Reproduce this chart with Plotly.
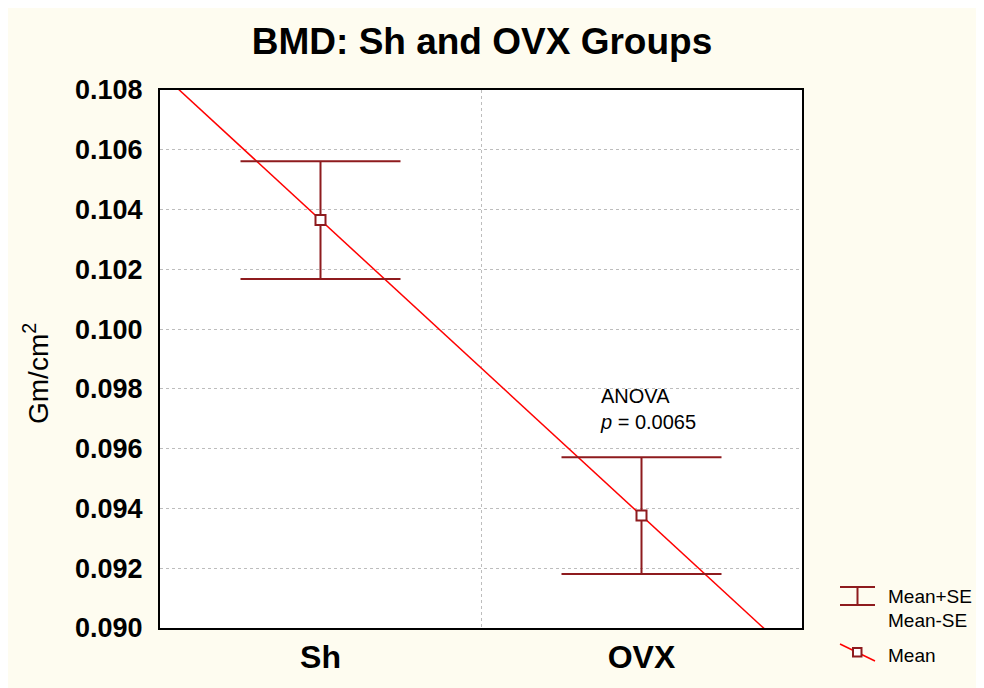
import plotly.graph_objects as go

groups = ["Sh", "OVX"]
means = [0.10365, 0.09376]
se = [0.00197, 0.00195]
y_ticks = [0.090, 0.092, 0.094, 0.096, 0.098, 0.100, 0.102, 0.104, 0.106, 0.108]

DARK_RED = "#8E1B1E"
CREAM = "#FEFCF0"
W, H = 984, 688
# plot area in figure pixels (page has an 8px body margin)
L, R, T, B = 152, 190, 82, 68

x_pos = list(range(len(groups)))

# straight line through the two means, extended across the plot
slope = (means[1] - means[0]) / (x_pos[1] - x_pos[0])
line_x = [-0.5, 1.5]
line_y = [means[0] + slope * (x - x_pos[0]) for x in line_x]


def px_x(p):
    return (p - 8 - L) / (W - L - R)


def px_y(p):
    return (H - B - (p - 8)) / (H - T - B)


fig = go.Figure()

fig.add_trace(go.Scatter(
    x=line_x, y=line_y, mode="lines",
    line=dict(color="red", width=1.5),
    hoverinfo="skip", showlegend=False
))

fig.add_trace(go.Scatter(
    x=x_pos, y=means, mode="markers",
    marker=dict(symbol="square", size=10, color="white",
                line=dict(color=DARK_RED, width=2)),
    error_y=dict(type="data", array=se, visible=True,
                 color=DARK_RED, thickness=2, width=80),
    showlegend=False
))

# annotation
fig.add_annotation(
    x=0.865, y=0.0982, xref="x", yref="y",
    text="ANOVA<br><i>p</i> = 0.0065", showarrow=False,
    xanchor="left", yanchor="top", align="left",
    font=dict(size=20, color="black")
)

# y axis title, placed by hand so it sits a bit low like the original
fig.add_annotation(
    x=px_x(36), y=px_y(374), xref="paper", yref="paper",
    text="Gm/cm<sup>2</sup>", showarrow=False, textangle=-90,
    xanchor="center", yanchor="middle",
    font=dict(size=28, color="black")
)

# hand-drawn legend (bottom right)
shapes = [
    dict(type="line", xref="paper", yref="paper",
         x0=px_x(840), x1=px_x(875), y0=px_y(587), y1=px_y(587),
         line=dict(color=DARK_RED, width=2)),
    dict(type="line", xref="paper", yref="paper",
         x0=px_x(840), x1=px_x(875), y0=px_y(605), y1=px_y(605),
         line=dict(color=DARK_RED, width=2)),
    dict(type="line", xref="paper", yref="paper",
         x0=px_x(857.5), x1=px_x(857.5), y0=px_y(587), y1=px_y(605),
         line=dict(color=DARK_RED, width=2)),
    dict(type="line", xref="paper", yref="paper",
         x0=px_x(840), x1=px_x(875), y0=px_y(644), y1=px_y(661),
         line=dict(color="red", width=1.5)),
    dict(type="rect", xref="paper", yref="paper",
         x0=px_x(853), x1=px_x(861.5), y0=px_y(648), y1=px_y(656.5),
         fillcolor="white", line=dict(color=DARK_RED, width=2)),
]

for txt, py in [("Mean+SE", 596), ("Mean-SE", 620), ("Mean", 655)]:
    fig.add_annotation(
        x=px_x(887), y=px_y(py), xref="paper", yref="paper",
        text=txt, showarrow=False, xanchor="left", yanchor="middle",
        borderpad=0, font=dict(size=19, color="black")
    )

fig.update_layout(
    width=W, height=H,
    margin=dict(l=L, r=R, t=T, b=B),
    paper_bgcolor=CREAM,
    plot_bgcolor="white",
    font=dict(family="Liberation Sans, Arial, sans-serif", color="black"),
    title=dict(text="<b>BMD: Sh and OVX Groups</b>", x=474 / W, xanchor="center",
               y=1 - 33 / H, yanchor="middle", font=dict(size=37)),
    shapes=shapes,
    showlegend=False,
)

fig.update_xaxes(
    range=[-0.5, 1.5],
    tickvals=x_pos, ticktext=["<b>%s</b>" % g for g in groups],
    tickfont=dict(size=32), ticks="", showgrid=False, zeroline=False,
    ticklabelstandoff=0,
    showline=True, linecolor="black", linewidth=2, mirror=True,
    minor=dict(tickvals=[0.5], showgrid=True, gridcolor="#BDBDBD",
               griddash="dot", gridwidth=1, ticks=""),
)

fig.update_yaxes(
    range=[0.090, 0.108],
    tickvals=y_ticks, ticktext=["<b>%.3f</b>" % v for v in y_ticks],
    tickfont=dict(size=27), ticks="", ticklabelstandoff=10,
    showgrid=True, gridcolor="#BDBDBD", griddash="dot", gridwidth=1,
    zeroline=False,
    showline=True, linecolor="black", linewidth=2, mirror=True,
)

fig.write_html("out.html")
